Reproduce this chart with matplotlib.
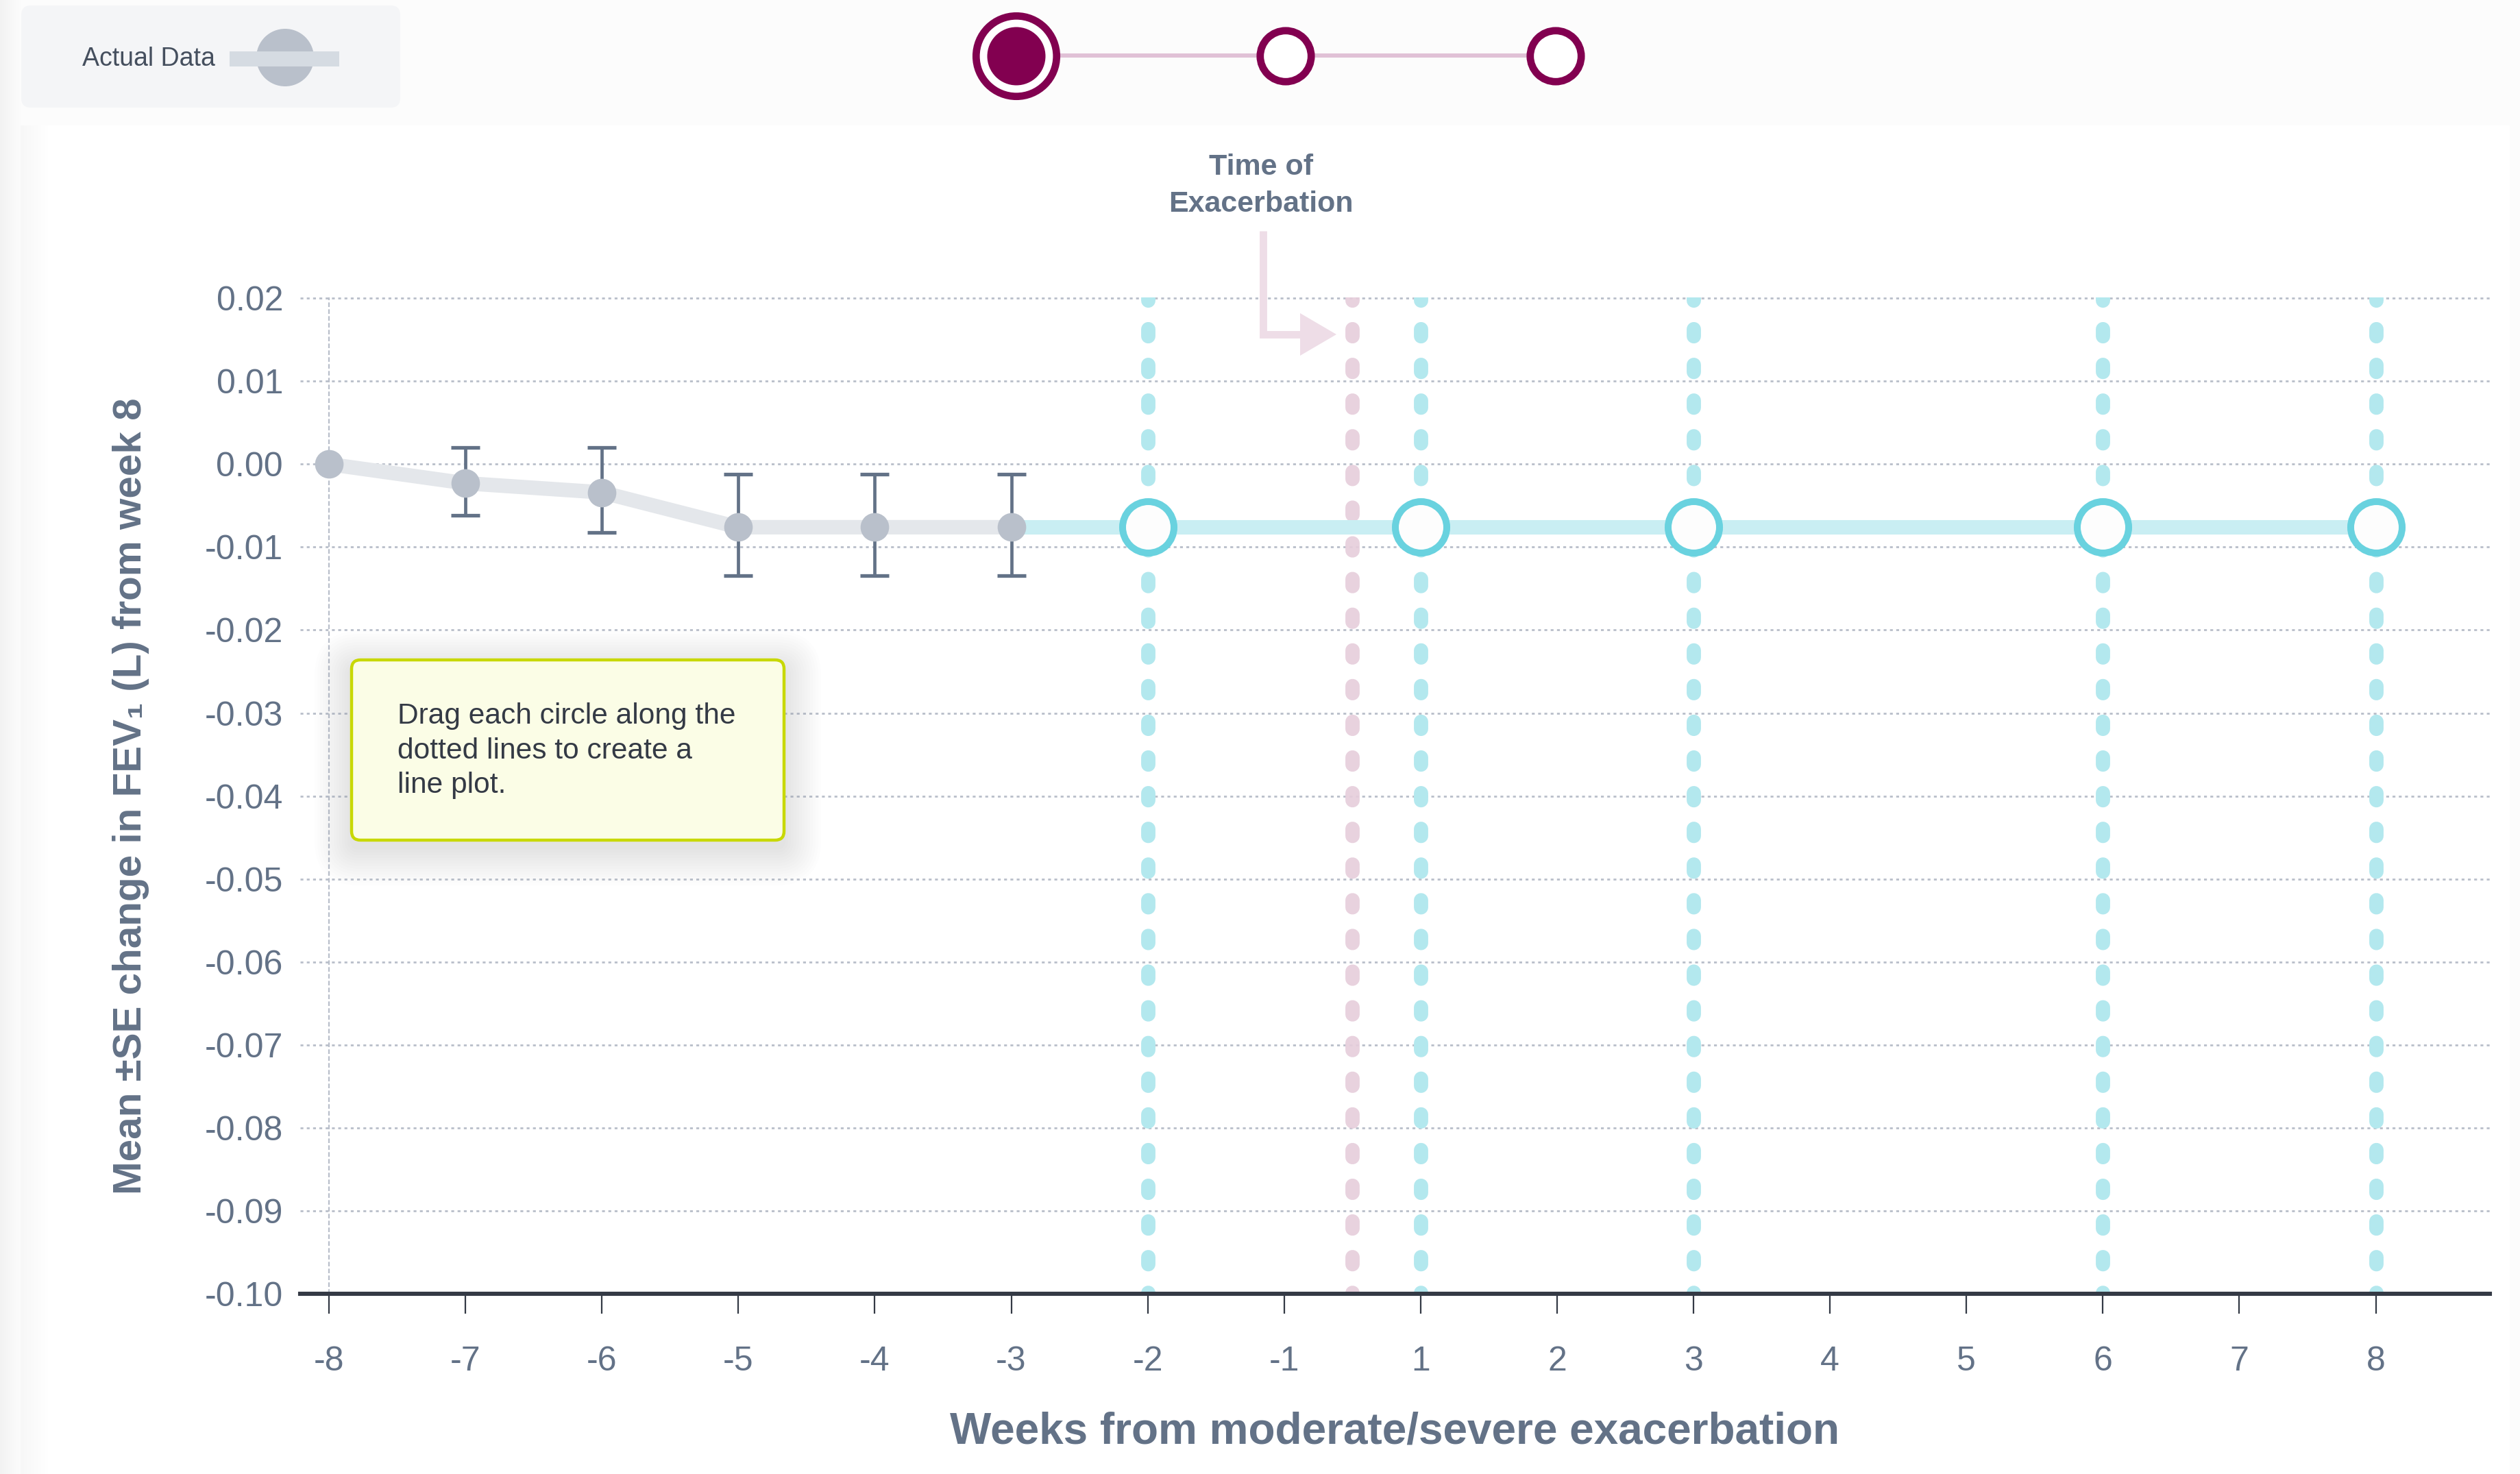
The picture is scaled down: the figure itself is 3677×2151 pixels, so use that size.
import numpy as np
import matplotlib.pyplot as plt
from matplotlib.patches import Circle, FancyBboxPatch, Polygon, Rectangle

plt.rcParams['font.family'] = ['Liberation Sans', 'DejaVu Sans']

# weeks on the x axis (no week 0: the exacerbation sits between -1 and 1)
week_ticks = [-8, -7, -6, -5, -4, -3, -2, -1, 1, 2, 3, 4, 5, 6, 7, 8]
y_ticks = [0.02, 0.01, 0.00, -0.01, -0.02, -0.03, -0.04, -0.05,
           -0.06, -0.07, -0.08, -0.09, -0.10]

# observed mean change with SE bounds
actual_weeks = [-8, -7, -6, -5, -4, -3]
actual_mean = [0.0, -0.0023, -0.0034, -0.0076, -0.0076, -0.0076]
se_upper = [None, 0.0020, 0.0020, -0.0012, -0.0012, -0.0012]
se_lower = [None, -0.0062, -0.0082, -0.0134, -0.0134, -0.0134]

# draggable guesses (start at last observed value)
pred_weeks = [-2, 1, 3, 6, 8]
pred_mean = [-0.0076, -0.0076, -0.0076, -0.0076, -0.0076]

SLATE = '#637287'
DARK = '#343a45'
GRID = '#b9bfca'
GREY_PT = '#b9c0cb'
GREY_LN = '#e4e7eb'
CYAN_LN = '#c9eef3'
CYAN_PT = '#69d2df'
CYAN_GUIDE = '#b3e8ee'
PINK_GUIDE = '#e6cddb'
PINK_ARROW = '#eedde7'
PLUM = '#820050'

W, H = 3677, 2151
DPI = 200


def xpos(w):
    if w == 0:
        return (week_ticks.index(-1) + week_ticks.index(1)) / 2
    return week_ticks.index(w)


fig = plt.figure(figsize=(W / DPI, H / DPI), dpi=DPI, facecolor='#fcfcfc')

# background layer in pixel coords
bg = fig.add_axes([0, 0, 1, 1], zorder=0)
bg.set_xlim(0, W)
bg.set_ylim(H, 0)
bg.axis('off')
# soft shade down the left edge
for i in range(10):
    bg.add_patch(Rectangle((0, 0), 30 - i * 3, H, color='#e6e6e6', alpha=0.04, lw=0))
bg.add_patch(Rectangle((30, 183), 3632, 2200, color='white', lw=0))
for i in range(8):
    bg.add_patch(Rectangle((30, 183), 40 - i * 5, H, color='#eeeeee', alpha=0.035, lw=0))

# legend chip
bg.add_patch(FancyBboxPatch((31, 8), 553, 149, boxstyle='round,pad=0,rounding_size=14',
                            fc='#f4f5f7', ec='none'))
bg.text(120, 86, 'Actual Data', fontsize=13.5, color='#454f5e', va='center', ha='left')
bg.plot([335, 495], [86, 86], color='#d5dbe2', lw=7.9, solid_capstyle='butt')
bg.add_patch(Circle((416, 84), 42, color=GREY_PT, lw=0))

# step indicator
bg.plot([1483, 2273], [81, 81], color='#e0c1d6', lw=2.2, solid_capstyle='butt', zorder=1)
bg.add_patch(Circle((1483, 82), 58.7, fc='white', ec=PLUM, lw=3.85, zorder=2))
bg.add_patch(Circle((1483, 82), 42.5, fc=PLUM, ec='none', zorder=3))
for cx in (1876, 2270):
    bg.add_patch(Circle((cx, 82), 37.2, fc='white', ec=PLUM, lw=3.85, zorder=2))

# main chart
ax = fig.add_axes([438 / W, 1 - 1888 / H, (3633 - 438) / W, (1888 - 434) / H], zorder=1)
ax.patch.set_alpha(0)
ax.set_xlim(-0.211, 15.836)
ax.set_ylim(-0.10, 0.0201)

for s in ['top', 'right', 'left']:
    ax.spines[s].set_visible(False)
ax.spines['bottom'].set_color(DARK)
ax.spines['bottom'].set_linewidth(2.2)

ax.set_yticks(y_ticks)
ax.set_yticklabels(['%.2f' % v for v in y_ticks])
ax.set_xticks([xpos(w) for w in week_ticks])
ax.set_xticklabels([str(w) for w in week_ticks])
ax.tick_params(axis='y', length=0, pad=9, labelsize=18, labelcolor=SLATE)
ax.tick_params(axis='x', length=10.4, width=0.8, color=DARK, pad=17,
               labelsize=18, labelcolor=SLATE)
ax.yaxis.grid(True, color=GRID, lw=1.0, ls=(0, (1.5, 1.8)), zorder=0)
ax.set_axisbelow(True)
ax.axvline(xpos(-8), color=GRID, lw=0.8, ls=(0, (3, 1.5)), zorder=0)

# guide lines for the draggable points and the exacerbation, dashes drawn top-down
for w in pred_weeks:
    ax.plot([xpos(w), xpos(w)], [0.0201, -0.10], color=CYAN_GUIDE, lw=7.5,
            ls=(0.3, (0.5, 2.0)), dash_capstyle='round', zorder=1)
ax.plot([xpos(0), xpos(0)], [0.0201, -0.10], color=PINK_GUIDE, lw=7.5,
        ls=(0.3, (0.5, 2.0)), dash_capstyle='round', zorder=1, alpha=0.9)

ax_x = [xpos(w) for w in actual_weeks]
px = [xpos(w) for w in pred_weeks]

ax.plot(ax_x, actual_mean, color=GREY_LN, lw=7.6, zorder=2, solid_joinstyle='round')
ax.plot([ax_x[-1]] + px, [actual_mean[-1]] + pred_mean, color=CYAN_LN, lw=7.6,
        zorder=2, solid_capstyle='butt')

eb_x = [x for x, u in zip(ax_x, se_upper) if u is not None]
eb_m = [m for m, u in zip(actual_mean, se_upper) if u is not None]
eb_lo = [m - l for m, l in zip(actual_mean, se_lower) if l is not None]
eb_hi = [u - m for m, u in zip(actual_mean, se_upper) if u is not None]
ax.errorbar(eb_x, eb_m, yerr=[eb_lo, eb_hi], fmt='none', ecolor=SLATE,
            elinewidth=1.7, capsize=7.6, capthick=1.9, zorder=3)
ax.plot(ax_x, actual_mean, 'o', ms=15, color=GREY_PT, mec='none', zorder=4)
ax.plot(px, pred_mean, 'o', ms=27, mfc='#fdfdfd', mec=CYAN_PT, mew=3.6, zorder=5)

fig.text(191 / W, 1 - 1162 / H, 'Mean ±SE change in FEV₁ (L) from week 8',
         rotation=90, ha='center', va='center', fontsize=21, fontweight='bold',
         color=SLATE)
fig.text(2035 / W, 1 - 2089 / H, 'Weeks from moderate/severe exacerbation',
         ha='center', va='center', fontsize=23, fontweight='bold', color=SLATE)

# foreground layer: annotation arrow and hint box
fg = fig.add_axes([0, 0, 1, 1], zorder=2)
fg.set_xlim(0, W)
fg.set_ylim(H, 0)
fg.axis('off')
fg.patch.set_alpha(0)

fg.text(1840, 271, 'Time of\nExacerbation', ha='center', va='center', fontsize=15.5,
        fontweight='bold', color=SLATE, linespacing=1.45)
fg.plot([1843, 1843, 1900], [337, 488, 488], color=PINK_ARROW, lw=3.9,
        solid_joinstyle='miter', solid_capstyle='butt')
fg.add_patch(Polygon([[1897, 457], [1897, 519], [1950, 488]], closed=True,
                     fc=PINK_ARROW, ec='none'))

for i in range(14):
    fg.add_patch(FancyBboxPatch((511 - i * 4, 961 - i * 4 + 12), 635 + i * 8, 267 + i * 8,
                                boxstyle='round,pad=0,rounding_size=%d' % (14 + i * 4),
                                fc='#7a7f88', ec='none', alpha=0.012))
fg.add_patch(FancyBboxPatch((513, 963), 631, 263, boxstyle='round,pad=0,rounding_size=13',
                            fc='#fbfde6', ec='#c8d800', lw=1.6))
fg.text(580, 1045, 'Drag each circle along the', fontsize=15.3, color=DARK, va='center')
fg.text(580, 1096, 'dotted lines to create a', fontsize=15.3, color=DARK, va='center')
fg.text(580, 1146, 'line plot.', fontsize=15.3, color=DARK, va='center')

fig.savefig('out.png', dpi=DPI, facecolor=fig.get_facecolor())
